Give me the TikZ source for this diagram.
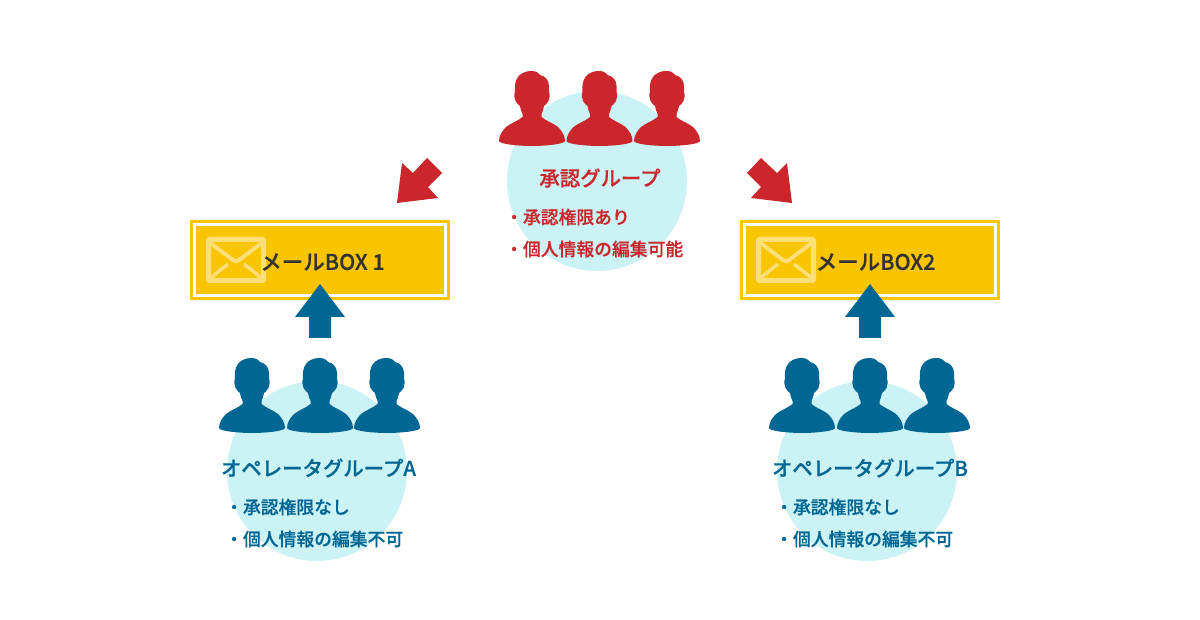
\documentclass[tikz,border=0pt]{standalone}
\usepackage{fontspec}
\setmainfont[BoldFont={Noto Sans CJK JP Medium},BoldFeatures={FakeBold=0.5}]{Noto Sans CJK JP}
\definecolor{cred}{HTML}{CA262C}
\definecolor{cblue}{HTML}{006694}
\definecolor{ccirc}{HTML}{CBF2F4}
\definecolor{cgold}{HTML}{F9C400}
\definecolor{cenv}{HTML}{FCDF78}
\definecolor{cdark}{HTML}{333333}
\tikzset{
  x=1pt,y=-1pt,
  halo/.style={circle,fill=ccirc,minimum size=180pt,inner sep=0pt,draw=none},
  title/.style={font=\fontsize{20.4}{22}\selectfont\bfseries,inner sep=0pt},
  item/.style={font=\fontsize{17.8}{20}\selectfont\bfseries,inner sep=0pt,anchor=west},
  boxtext/.style={font=\fontsize{21.5}{24}\selectfont\bfseries,text=cdark,inner sep=0pt},
  outerbox/.style={draw=cgold,line width=3pt,fill=white,minimum width=257pt,minimum height=77pt,inner sep=0pt},
  innerbox/.style={fill=cgold,minimum width=248pt,minimum height=68pt,inner sep=0pt},
  person/.pic={
    \fill (-1,0) .. controls (3,0) and (6,1) .. (8,4)
      .. controls (13,5) and (17,9) .. (17,15)
      -- (17,21) .. controls (18,23) and (18,27) .. (16.5,30)
      .. controls (15,33) and (13,34) .. (12,35)
      .. controls (12,38) and (10,41) .. (9.5,43) -- (9.5,46)
      .. controls (14,50) and (21,52) .. (26,56)
      .. controls (30,60) and (33,65) .. (33,70)
      .. controls (33,73) and (14,75) .. (0,75)
      .. controls (-14,75) and (-33,73) .. (-33,70)
      .. controls (-33,65) and (-30,60) .. (-26,56)
      .. controls (-21,52) and (-14,50) .. (-9.5,46) -- (-9.5,43)
      .. controls (-10,41) and (-12,38) .. (-12,35)
      .. controls (-13,34) and (-15,33) .. (-16.5,30)
      .. controls (-18,27) and (-18,23) .. (-17,21)
      .. controls (-17.5,15) and (-17,10) .. (-14,6)
      .. controls (-11,2) and (-6,0) .. (-1,0) -- cycle;
  },
  envelope/.pic={
    \draw[cenv,line width=5pt,rounded corners=1pt] (-27.5,-20.5) rectangle (27.5,20.5);
    \draw[cenv,line width=4pt,line join=round] (-27,-18) -- (-3,0) .. controls (-1,2) and (1,2) .. (3,0) -- (27,-18);
    \draw[cenv,line width=3.5pt] (-27,19) -- (-8,4) (27,19) -- (8,4);
  }
}
\begin{document}
\begin{tikzpicture}
\useasboundingbox (0,0) rectangle (1200,620);
% halos
\node[halo] (haloC) at (597,181) {};
\node[halo] (haloA) at (317,471) {};
\node[halo] (haloB) at (867,471) {};
% people
\foreach \p in {532,599.5,667} \pic[cred] at (\p,71) {person};
\foreach \p in {252,320,387,802,870,937} \pic[cblue] at (\p,358) {person};
% boxes
\node[outerbox] (boxA) at (320,260) {};
\node[innerbox] (boxAi) at (320,260) {};
\node[outerbox] (boxB) at (870,260) {};
\node[innerbox] (boxBi) at (870,260) {};
\pic at (236,260) {envelope};
\pic at (786,260) {envelope};
\node[boxtext] (labelA) at (322.5,262) {メールBOX 1};
\node[boxtext] (labelB) at (875.5,262) {メールBOX2};
% block arrows
\fill[cred] (397,203) -- (402,163) -- (413,173) -- (427,158) -- (442,173) -- (428,187) -- (438,198) -- cycle;
\fill[cred] (792,203) -- (787,163) -- (777,173) -- (761,158) -- (747,173) -- (761,187) -- (751,198) -- cycle;
\foreach \dx in {0,550} {
  \fill[cblue] (320+\dx,284) -- (345+\dx,317) -- (331+\dx,317) -- (331+\dx,338) -- (309+\dx,338) -- (309+\dx,317) -- (295+\dx,317) -- cycle;
}
% text
\node[title,text=cred] (tC) at (600,178) {承認グループ};
\node[item,text=cred] (c1) at (505,217) {・承認権限あり};
\node[item,text=cred] (c2) at (505,249) {・個人情報の編集可能};
\node[title,text=cblue] (tA) at (318.5,468) {オペレータグループA};
\node[item,text=cblue] (a1) at (225,507) {・承認権限なし};
\node[item,text=cblue] (a2) at (225,539) {・個人情報の編集不可};
\node[title,text=cblue] (tB) at (870,468) {オペレータグループB};
\node[item,text=cblue] (b1) at (775,507) {・承認権限なし};
\node[item,text=cblue] (b2) at (775,539) {・個人情報の編集不可};
\end{tikzpicture}
\end{document}
